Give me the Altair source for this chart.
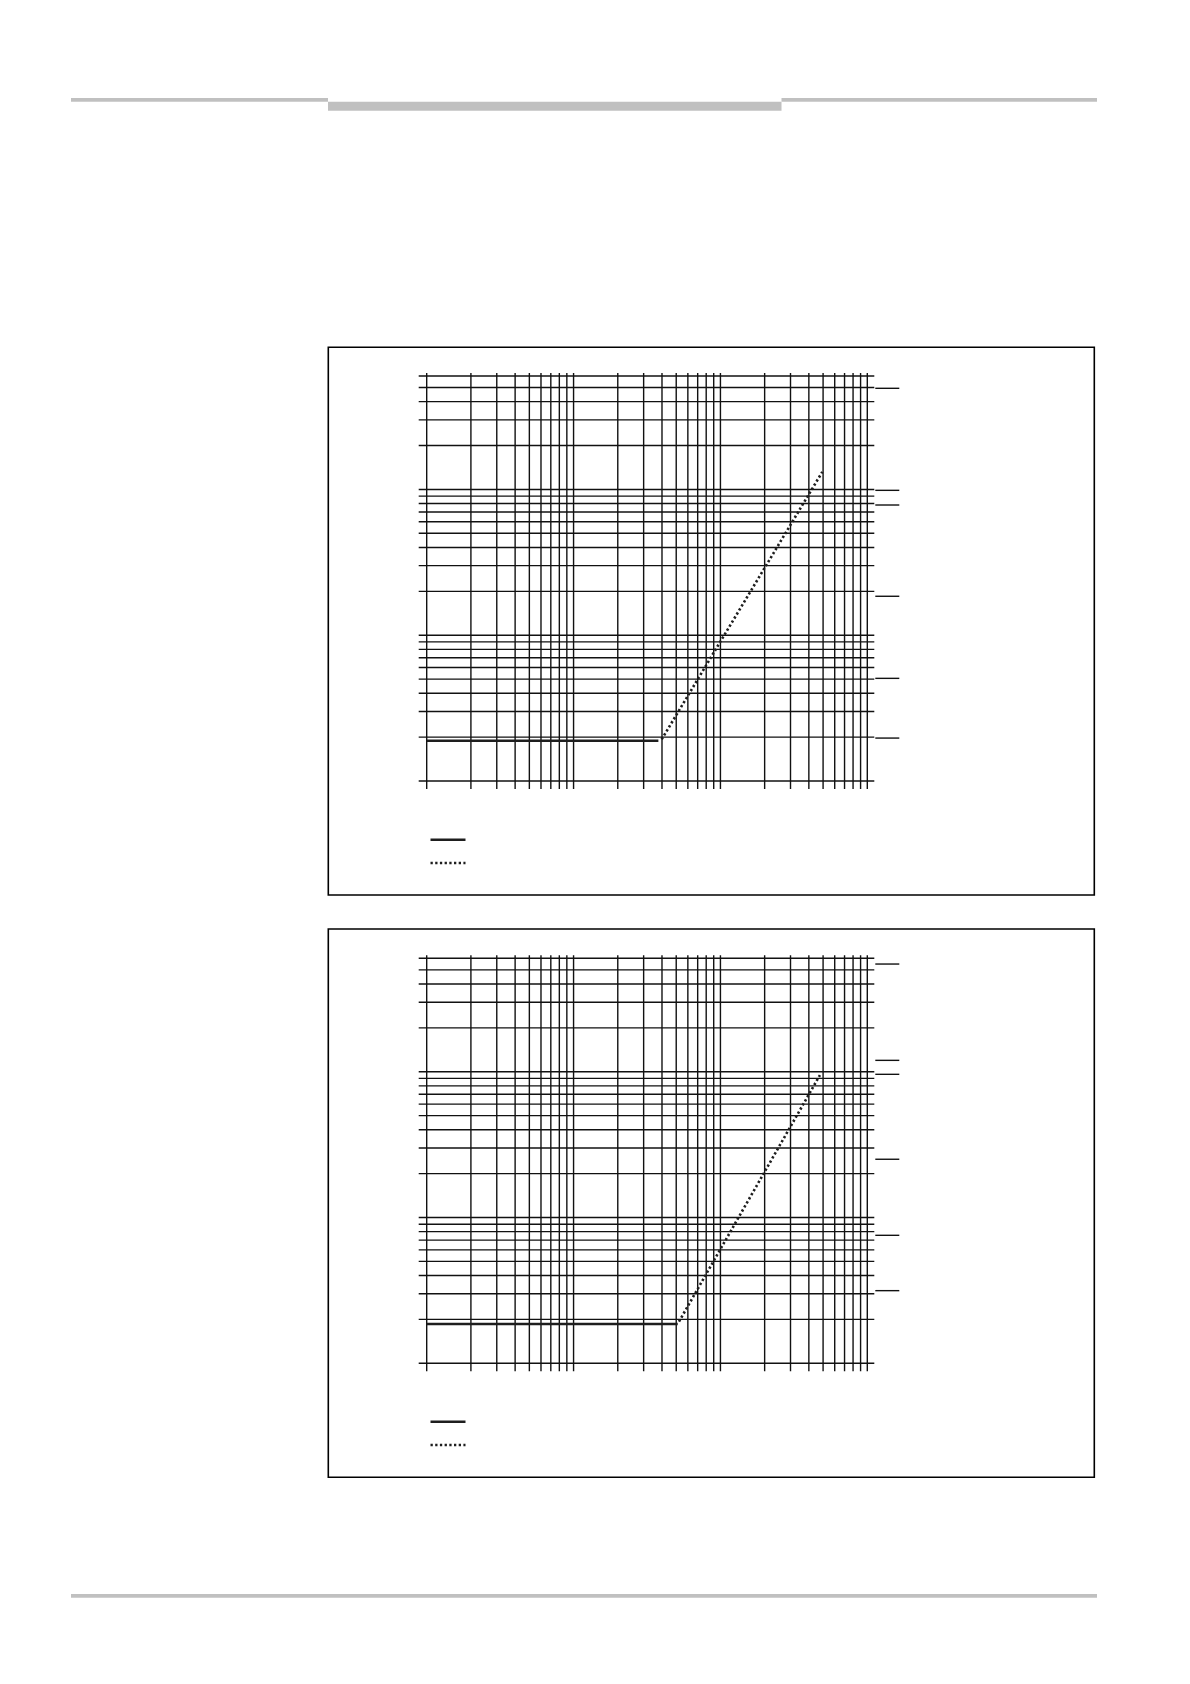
import altair as alt
import pandas as pd

# ---------------- data ----------------
x_grid = [1, 2, 3, 4, 5, 6, 7, 8, 9,
          10, 20, 30, 40, 50, 60, 70, 80, 90,
          100, 200, 300, 400, 500, 600, 700, 800, 900, 1000]
y_grid = [1, 2, 3, 4, 5, 6, 7, 8, 9,
          10, 20, 30, 40, 50, 60, 70, 80, 90,
          100, 200, 300, 400, 500, 600]
x_domain = [1, 1000]
y_domain = [1, 600]
series_names = ["solid", "dotted"]

# chart 1
c1_solid_x = [1, 37.8]
c1_solid_y = [1.89, 1.89]
c1_dotted_x = [39.8, 494]
c1_dotted_y = [1.93, 132]
c1_right_ticks = [494, 98.6, 78.2, 18.5, 5.06, 1.97]

# chart 2
c2_solid_x = [1, 51.2]
c2_solid_y = [1.86, 1.86]
c2_dotted_x = [52.2, 476]
c2_dotted_y = [1.93, 94.9]
c2_right_ticks = [548, 119.7, 96.0, 25.1, 7.55, 3.15]

# ---------------- layout / style constants ----------------
GRID = "#111111"
LINE = "#1e1e1e"
BAR = "#c0c0c0"
X_RANGE = [418.7, 859.3]
dummy = pd.DataFrame({"a": [0]})


def rect(x, x2, y, y2, **kw):
    return alt.Chart(dummy).mark_rect(**kw).encode(
        x=alt.value(x), x2=alt.value(x2), y=alt.value(y), y2=alt.value(y2)
    )


deco = [
    rect(63, 320, 90, 93.7, color=BAR),
    rect(320, 773.5, 93.7, 102.7, color=BAR),
    rect(773.5, 1089, 90, 93.7, color=BAR),
    rect(63, 1089, 1586, 1589.7, color=BAR),
    rect(320.3, 1086.3, 339.3, 887, fillOpacity=0, stroke="#000", strokeWidth=1.6),
    rect(320.3, 1086.3, 921, 1469.3, fillOpacity=0, stroke="#000", strokeWidth=1.6),
]


def panel(y_range, sx, sy, dx, dy, rticks, legend_y):
    xs = alt.Scale(type="log", domain=x_domain, range=X_RANGE)
    ys = alt.Scale(type="log", domain=y_domain, range=y_range)

    vgrid = alt.Chart(pd.DataFrame({"gx": x_grid})).mark_rule(
        color=GRID, strokeWidth=1.4, yOffset=8, y2Offset=-3
    ).encode(
        x=alt.X("gx:Q", scale=xs, axis=None),
        y=alt.YDatum(y_domain[0], scale=ys, axis=None),
        y2=alt.Y2Datum(y_domain[1]),
    )
    hgrid = alt.Chart(pd.DataFrame({"gy": y_grid})).mark_rule(
        color=GRID, strokeWidth=1.4, xOffset=-8, x2Offset=7
    ).encode(
        y=alt.Y("gy:Q", scale=ys, axis=None),
        x=alt.XDatum(x_domain[0], scale=xs, axis=None),
        x2=alt.X2Datum(x_domain[1]),
    )
    rt = alt.Chart(pd.DataFrame({"ry": rticks})).mark_rule(
        color=GRID, strokeWidth=1.4, xOffset=8, x2Offset=32
    ).encode(
        y=alt.Y("ry:Q", scale=ys, axis=None),
        x=alt.XDatum(x_domain[1], scale=xs, axis=None),
        x2=alt.X2Datum(x_domain[1]),
    )
    df = pd.DataFrame({
        "x": sx + dx,
        "y": sy + dy,
        "series": [series_names[0]] * len(sx) + [series_names[1]] * len(dx),
    })
    lines = alt.Chart(df).mark_line(color=LINE, strokeWidth=2.6).encode(
        x=alt.X("x:Q", scale=xs, axis=None),
        y=alt.Y("y:Q", scale=ys, axis=None),
        strokeDash=alt.StrokeDash(
            "series:N",
            scale=alt.Scale(domain=series_names, range=[[1, 0], [2.3, 2.4]]),
            legend=alt.Legend(
                orient="none", legendX=421, legendY=legend_y, title=None,
                symbolType="stroke", symbolSize=1225, symbolStrokeWidth=2.6,
                symbolStrokeColor=LINE, labelExpr="''", labelFontSize=8,
                clipHeight=12, rowPadding=11.3, padding=0, offset=0,
            ),
        ),
    )
    return [vgrid, hgrid, rt, lines]


p1 = panel([773, 368], c1_solid_x, c1_solid_y, c1_dotted_x, c1_dotted_y,
           c1_right_ticks, 825.7)
p2 = panel([1355.3, 950.3], c2_solid_x, c2_solid_y, c2_dotted_x, c2_dotted_y,
           c2_right_ticks, 1407.7)

chart = alt.layer(*deco, *p1, *p2).resolve_scale(
    y="independent", strokeDash="independent"
).properties(
    width=1174, height=1668, padding=0,
    autosize=alt.AutoSizeParams(type="none"),
    background="white",
).configure_view(stroke=None)

chart.save("out.html", embed_options={"renderer": "svg", "actions": False})
